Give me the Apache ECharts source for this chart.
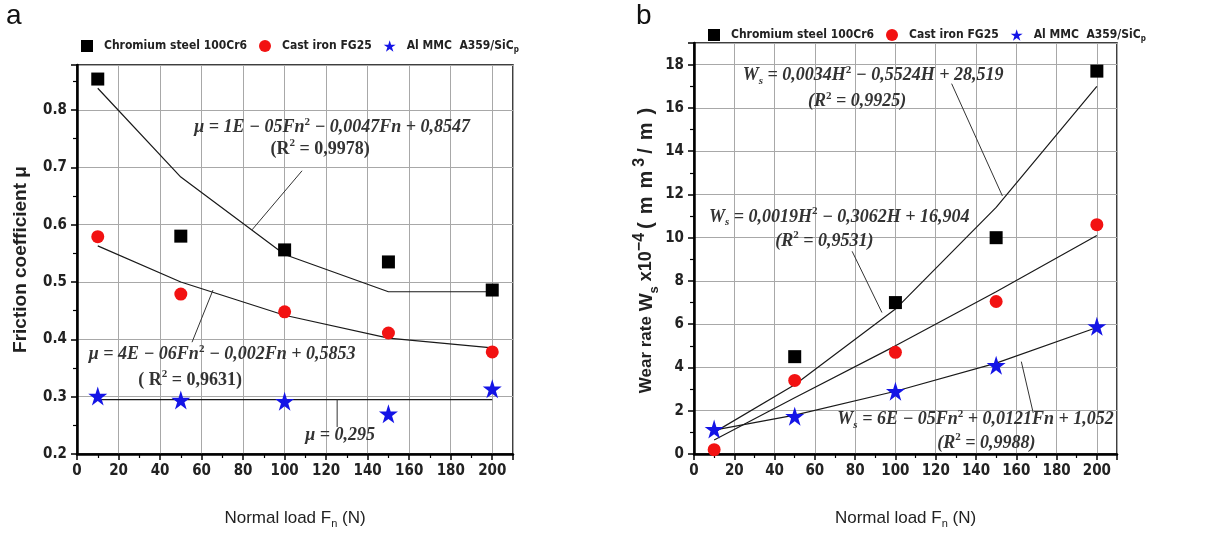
<!DOCTYPE html>
<html>
<head>
<meta charset="utf-8">
<script src="https://cdn.jsdelivr.net/npm/echarts@6/dist/echarts.min.js"></script>
<style>
  html, body { margin: 0; padding: 0; background: #fff; }
  #chart { width: 1213px; height: 536px; }
</style>
</head>
<body>
<div id="chart"></div>
<script>
// Normal loads tested (N)
const loads = [10, 50, 100, 150, 200];
const materials = ['Chromium steel 100Cr6', 'Cast iron FG25', 'Al MMC  A359/SiC'];

// (a) friction coefficient μ
const muSteel = [0.854, 0.580, 0.556, 0.535, 0.486];
const muIron = [0.579, 0.479, 0.448, 0.411, 0.378];
const muAl = [0.301, 0.294, 0.292, 0.270, 0.314];
const muSteelFit = [0.838, 0.683, 0.548, 0.483, 0.483];
const muIronFit = [0.563, 0.500, 0.442, 0.402, 0.385];
const muAlMean = 0.295;

// (b) wear rate Ws x10^-4 (mm^3/m); steel at 10 N sits under the cast iron point
const wsSteel = [null, 4.5, 7.0, 10.0, 17.7];
const wsIron = [0.2, 3.4, 4.7, 7.05, 10.6];
const wsAl = [1.15, 1.75, 2.9, 4.1, 5.9];
const wsSteelFit = [1.0, 3.2, 6.7, 11.4, 17.0];
const wsIronFit = [0.65, 2.6, 5.0, 7.5, 10.1];
const wsAlFit = [1.1, 1.8, 2.9, 4.2, 5.85];

// Pick a condensed face when one is installed
function hasFont(name) {
  const ctx = document.createElement('canvas').getContext('2d');
  const s = 'Chromium steel 100Cr6 mmwwii 0123456789';
  ctx.font = 'bold 20px monospace';
  const base = ctx.measureText(s).width;
  ctx.font = 'bold 20px "' + name + '", monospace';
  return Math.abs(ctx.measureText(s).width - base) > 0.5;
}
const narrowFace = ['Liberation Sans Narrow', 'DejaVu Sans Condensed', 'Roboto Condensed'].find(hasFont);
const SANS_W = '"Liberation Sans", Arial, sans-serif';
const SANS = narrowFace ? '"' + narrowFace + '", ' + SANS_W : SANS_W;
const isArialNarrow = narrowFace === 'Liberation Sans Narrow';
const TICK_SIZE = isArialNarrow ? 17 : 15;
const LEG_SIZE = isArialNarrow ? 14 : 12;

const SERIF = '"Liberation Serif", "DejaVu Serif", serif';
const STAR = 'path://M50,2 L61.2,36.6 L97.6,36.6 L68.2,58 L79.4,92.6 L50,71.2 L20.6,92.6 L31.8,58 L2.4,36.6 L38.8,36.6 Z';
const COLORS = ['#000000', '#f21212', '#1414e6'];
const SYMBOLS = ['rect', 'circle', STAR];
const SIZES = [13, 13, 19];

const pairs = (ys) => loads.map((x, i) => [x, ys[i]]);

function xAxis(gridIndex) {
  return {
    type: 'value', gridIndex, min: 0, max: 210, interval: 20,
    name: '{n|Normal load F}{b|n}{n| (N)}', nameLocation: 'middle', nameGap: 53,
    nameTextStyle: {
      rich: {
        n: { fontFamily: SANS_W, fontSize: 17, color: '#222', lineHeight: 22 },
        b: { fontFamily: SANS_W, fontSize: 11, color: '#222', lineHeight: 11, verticalAlign: 'bottom' }
      }
    },
    axisLine: { show: true, onZero: false, lineStyle: { color: '#000', width: 2.5 } },
    axisTick: { show: true, length: 6, lineStyle: { color: '#000', width: 1.5 } },
    minorTick: { show: true, splitNumber: 2, length: 4, lineStyle: { color: '#000', width: 1.2 } },
    axisLabel: {
      fontFamily: SANS, fontWeight: 'bold', fontSize: TICK_SIZE, color: '#222', margin: 10,
      formatter: (v) => (v > 200 ? '' : String(v))
    },
    splitLine: { show: true, lineStyle: { color: '#a8a8a8', width: 1 } }
  };
}

function yTicks() {
  return {
    axisLine: { show: true, onZero: false, lineStyle: { color: '#000', width: 2.5 } },
    axisTick: { show: true, length: 6, lineStyle: { color: '#000', width: 1.5 } },
    minorTick: { show: true, splitNumber: 2, length: 4, lineStyle: { color: '#000', width: 1.2 } },
    splitLine: { show: true, lineStyle: { color: '#a8a8a8', width: 1 } }
  };
}

function scatter(name, idx, gridIndex, ys) {
  return {
    type: 'scatter', name, xAxisIndex: gridIndex, yAxisIndex: gridIndex,
    data: pairs(ys), symbol: SYMBOLS[idx], symbolSize: SIZES[idx],
    itemStyle: { color: COLORS[idx], opacity: 1 }, z: 5 + idx
  };
}

function fit(gridIndex, ys) {
  return {
    type: 'line', name: 'fit', xAxisIndex: gridIndex, yAxisIndex: gridIndex,
    data: pairs(ys), showSymbol: false, symbol: 'none', silent: true,
    lineStyle: { color: '#1a1a1a', width: 1.2 }, z: 3
  };
}

function legend(left, top) {
  const base = { fontFamily: SANS, fontWeight: 'bold', fontSize: LEG_SIZE, color: '#222' };
  return {
    left, top, itemWidth: 12, itemHeight: 12, itemGap: 12, selectedMode: false,
    textStyle: Object.assign({
      padding: [0, 0, 0, 6],
      rich: {
        n: Object.assign({ lineHeight: 16 }, base),
        p: Object.assign({}, base, { fontSize: 8, lineHeight: 8, verticalAlign: 'bottom' })
      }
    }, base),
    // the composite's reinforcement is written with a subscript p
    formatter: (name) => (name === materials[2] ? '{n|' + name + '}{p|p}' : '{n|' + name + '}'),
    data: materials.map((m, i) => ({ name: m, icon: SYMBOLS[i], itemStyle: { color: COLORS[i] } }))
  };
}

// Letter-spaced pieces of the wear-rate unit
const spaced = (s, style) => s.split('').map((ch) => '{' + style + '|' + ch + '}').join('');
const wearName = '{w|Wear rate }{W|W}{b|s}{x| x10}{s|−4}' + spaced('(mm', 'u') + '{s|3}' + spaced('/m)', 'u');

const chart = echarts.init(document.getElementById('chart'), null, { renderer: 'canvas' });

chart.setOption({
  animation: false,
  backgroundColor: '#fff',
  legend: [legend(76, 35), legend(703, 24)],
  grid: [
    { left: 77, top: 65, right: 700, bottom: 82, show: true, borderColor: '#000', borderWidth: 1.5, containLabel: false },
    { left: 694, top: 43, right: 96, bottom: 82, show: true, borderColor: '#000', borderWidth: 1.5, containLabel: false }
  ],
  xAxis: [xAxis(0), xAxis(1)],
  yAxis: [
    Object.assign({
      type: 'value', gridIndex: 0, min: 0.2, max: 0.8785, interval: 0.1,
      name: 'Friction coefficient μ', nameLocation: 'middle', nameGap: 47,
      nameTextStyle: { fontFamily: SANS_W, fontWeight: 'bold', fontSize: 19, color: '#222' },
      axisLabel: {
        fontFamily: SANS, fontWeight: 'bold', fontSize: TICK_SIZE, color: '#222', margin: 10,
        formatter: (v) => (v > 0.85 ? '' : v.toFixed(1))
      }
    }, yTicks()),
    Object.assign({
      type: 'value', gridIndex: 1, min: 0, max: 19, interval: 2,
      name: wearName, nameLocation: 'middle', nameGap: 32,
      nameTextStyle: {
        rich: {
          w: { fontFamily: SANS_W, fontWeight: 'bold', fontSize: 17, color: '#222', lineHeight: 30 },
          W: { fontFamily: SANS_W, fontWeight: 'bold', fontSize: 19, color: '#222', lineHeight: 30 },
          x: { fontFamily: SANS_W, fontWeight: 'bold', fontSize: 18, color: '#222', lineHeight: 30 },
          u: { fontFamily: SANS_W, fontWeight: 'bold', fontSize: 20, color: '#222', lineHeight: 30, padding: [0, 4, 0, 4] },
          b: { fontFamily: SANS_W, fontWeight: 'bold', fontSize: 13, color: '#222', lineHeight: 13, verticalAlign: 'bottom' },
          s: { fontFamily: SANS_W, fontWeight: 'bold', fontSize: 16, color: '#222', lineHeight: 16, verticalAlign: 'top' }
        }
      },
      axisLabel: {
        fontFamily: SANS, fontWeight: 'bold', fontSize: TICK_SIZE, color: '#222', margin: 10,
        formatter: (v) => (v > 18 ? '' : String(v))
      }
    }, yTicks())
  ],
  series: [
    fit(0, muSteelFit), fit(0, muIronFit),
    {
      type: 'line', name: 'mean', xAxisIndex: 0, yAxisIndex: 0, showSymbol: false, symbol: 'none', silent: true,
      data: [[loads[0], muAlMean], [loads[loads.length - 1], muAlMean]],
      lineStyle: { color: '#1a1a1a', width: 1.2 }, z: 3
    },
    scatter(materials[0], 0, 0, muSteel),
    scatter(materials[1], 1, 0, muIron),
    scatter(materials[2], 2, 0, muAl),
    fit(1, wsSteelFit), fit(1, wsIronFit), fit(1, wsAlFit),
    scatter(materials[0], 0, 1, wsSteel),
    scatter(materials[1], 1, 1, wsIron),
    scatter(materials[2], 2, 1, wsAl)
  ]
});

// Equation labels and leader lines, anchored in data coordinates of each panel
const T = { fontFamily: SERIF, fontSize: 18, fontStyle: 'italic', fontWeight: 'bold', fill: '#333', lineHeight: 22 };
const U = Object.assign({}, T, { fontStyle: 'normal' });
const SUP = { fontFamily: SERIF, fontSize: 11, fontWeight: 'bold', fill: '#333', lineHeight: 12, verticalAlign: 'top' };
const SUB = { fontFamily: SERIF, fontSize: 11, fontWeight: 'bold', fontStyle: 'italic', fill: '#333', lineHeight: 12, verticalAlign: 'bottom' };
const RICH = { t: T, u: U, s: SUP, b: SUB };

const labels = [
  { g: 0, at: [122.9, 0.769], text: '{t|μ = 1E − 05Fn}{s|2}{t| − 0,0047Fn + 0,8547}' },
  { g: 0, at: [117.1, 0.732], text: '{u|(R}{s|2}{u| = 0,9978)}' },
  { g: 0, at: [69.9, 0.373], text: '{t|μ = 4E − 06Fn}{s|2}{t| − 0,002Fn + 0,5853}' },
  { g: 0, at: [54.5, 0.329], text: '{u|( R}{s|2}{u| = 0,9631)}' },
  { g: 0, at: [126.7, 0.233], text: '{t|μ = 0,295}' },
  { g: 1, at: [88.9, 17.49], text: '{t|W}{b|s}{t| = 0,0034H}{s|2}{t| − 0,5524H + 28,519}' },
  { g: 1, at: [81.0, 16.29], text: '{t|(R}{s|2}{t| = 0,9925)}' },
  { g: 1, at: [72.1, 10.95], text: '{t|W}{b|s}{t| = 0,0019H}{s|2}{t| − 0,3062H + 16,904}' },
  { g: 1, at: [64.7, 9.84], text: '{t|(R}{s|2}{t| = 0,9531)}' },
  { g: 1, at: [139.8, 1.58], text: '{t|W}{b|s}{t| = 6E − 05Fn}{s|2}{t| + 0,0121Fn + 1,052}' },
  { g: 1, at: [145.2, 0.51], text: '{t|(R}{s|2}{t| = 0,9988)}' }
];

const leaders = [
  { g: 0, from: [108.4, 0.694], to: [84.3, 0.591] },
  { g: 0, from: [55.4, 0.395], to: [65.5, 0.486] },
  { g: 0, from: [125.3, muAlMean], to: [125.3, 0.247] },
  { g: 1, from: [127.9, 17.12], to: [153.1, 11.93] },
  { g: 1, from: [78.5, 9.37], to: [93.3, 6.54] },
  { g: 1, from: [168.4, 1.90], to: [162.5, 4.27] }
];

const px = (g, p) => chart.convertToPixel({ gridIndex: g }, p);

const graphics = [
  { type: 'text', left: 6, top: 2, style: { text: 'a', fontFamily: SANS_W, fontSize: 28, fill: '#111' } },
  { type: 'text', left: 636, top: 2, style: { text: 'b', fontFamily: SANS_W, fontSize: 28, fill: '#111' } }
];

leaders.forEach((l) => {
  const a = px(l.g, l.from), b = px(l.g, l.to);
  graphics.push({
    type: 'line', silent: true, z: 4,
    shape: { x1: a[0], y1: a[1], x2: b[0], y2: b[1] },
    style: { stroke: '#333', lineWidth: 1 }
  });
});

labels.forEach((l) => {
  const p = px(l.g, l.at);
  graphics.push({
    type: 'text', silent: true, z: 10, x: p[0], y: p[1],
    style: { text: l.text, rich: RICH, align: 'center', verticalAlign: 'middle' }
  });
});

chart.setOption({ graphic: graphics });
</script>
</body>
</html>
